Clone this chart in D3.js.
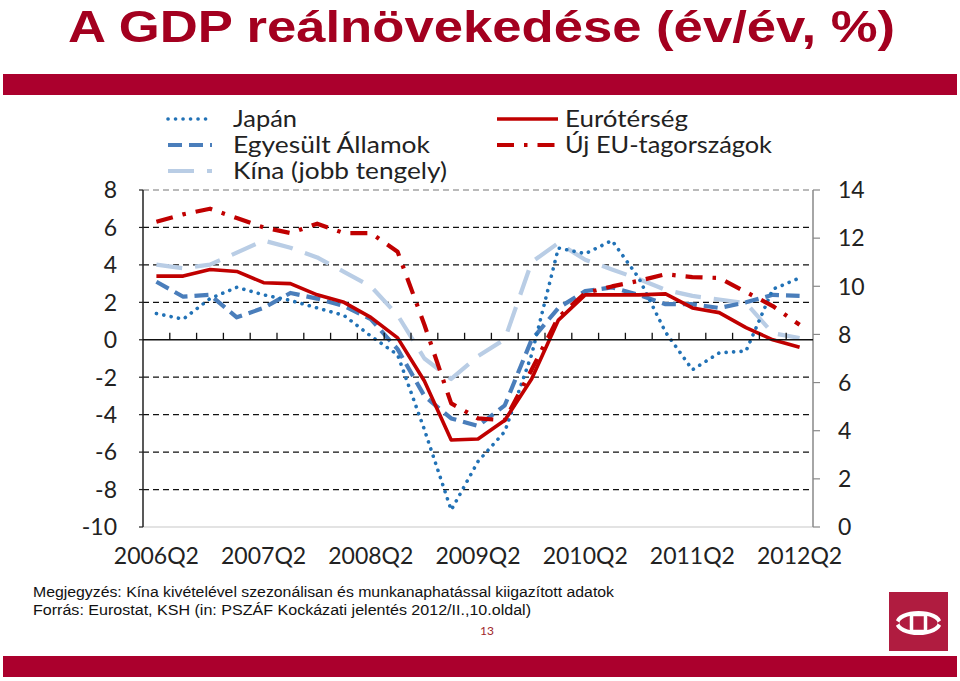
<!DOCTYPE html>
<html><head><meta charset="utf-8">
<script src="https://cdn.jsdelivr.net/npm/d3@7"></script>
<style>html,body{margin:0;padding:0;background:#fff;}svg{display:block;}</style>
</head><body>
<svg id="c" width="960" height="681"></svg>
<script>
const quarters = [];
["2006","2007","2008","2009","2010","2011","2012"].forEach(y=>["Q1","Q2","Q3","Q4"].forEach(q=>quarters.push(y+q)));
const categories = quarters.slice(1, 26); // 2006Q2 .. 2012Q2
const tickLabels = ["2006Q2","2007Q2","2008Q2","2009Q2","2010Q2","2011Q2","2012Q2"];
const leftTicks = [-10,-8,-6,-4,-2,0,2,4,6,8];
const rightTicks = [0,2,4,6,8,10,12,14];

const japan    = [1.4, 1.1, 2.2, 2.8, 2.4, 2.1, 1.7, 1.3, 0.2, -0.8, -4.8, -9.1, -6.5, -4.9, -0.8, 4.9, 4.6, 5.3, 3.3, 0.4, -1.6, -0.7, -0.6, 2.7, 3.3];
const usa      = [3.1, 2.3, 2.4, 1.2, 1.7, 2.5, 2.2, 1.8, 1.1, -0.5, -3.0, -4.2, -4.6, -3.5, 0.0, 1.7, 2.6, 2.8, 2.4, 1.9, 1.9, 1.7, 2.0, 2.4, 2.35];
const china    = [10.9, 10.75, 10.9, 11.4, 11.9, 11.6, 11.2, 10.6, 10.0, 8.8, 7.0, 6.15, 7.1, 7.8, 11.0, 11.8, 11.1, 10.7, 10.3, 9.85, 9.6, 9.45, 9.3, 8.05, 7.85];
const eurozone = [3.4, 3.4, 3.75, 3.65, 3.05, 3.0, 2.4, 2.0, 1.2, 0.1, -2.2, -5.35, -5.3, -4.3, -2.1, 1.05, 2.4, 2.4, 2.4, 2.45, 1.7, 1.45, 0.65, 0.0, -0.4];
const newEU    = [6.3, 6.7, 7.0, 6.5, 6.0, 5.7, 6.2, 5.7, 5.7, 4.7, 0.8, -3.4, -4.2, -4.3, -1.6, 1.2, 2.5, 2.85, 3.15, 3.5, 3.35, 3.3, 2.55, 1.8, 0.8];

const svg = d3.select("#c");
const L = 143, R = 813, T = 190, B = 527;
const x = d3.scaleBand().domain(categories).range([L, R]).padding(0);
const yL = d3.scaleLinear().domain([-10, 8]).range([B, T]);
const yR = d3.scaleLinear().domain([0, 14]).range([B, T]);
const cx = c => x(c) + x.bandwidth()/2;

// Title & bands
svg.append("text").attr("x", 68).attr("y", 42)
  .attr("font-family", "Liberation Sans, Arial, sans-serif").attr("font-weight", "bold")
  .attr("font-size", 45).attr("fill", "#a3001f")
  .attr("textLength", 827).attr("lengthAdjust", "spacingAndGlyphs")
  .text("A GDP reálnövekedése (év/év, %)");
svg.append("rect").attr("x", 3).attr("y", 74).attr("width", 954).attr("height", 21).attr("fill", "#ab002d");
svg.append("rect").attr("x", 3).attr("y", 656).attr("width", 954).attr("height", 21).attr("fill", "#ab002d");

const axisFont = "Lato, 'Open Sans', sans-serif";

// gridlines
leftTicks.forEach(v => {
  if (v === 0 || v === -10) return;
  svg.append("line").attr("x1", L).attr("x2", R).attr("y1", yL(v)).attr("y2", yL(v))
    .attr("stroke", v === 8 ? "#777" : "#111").attr("stroke-width", 1.2)
    .attr("stroke-dasharray", "6 4");
});
// bottom line
svg.append("line").attr("x1", L).attr("x2", R).attr("y1", B).attr("y2", B).attr("stroke", "#c8c8c8").attr("stroke-width", 1.2);
// left axis
svg.append("line").attr("x1", L).attr("x2", L).attr("y1", T).attr("y2", B).attr("stroke", "#222").attr("stroke-width", 1.5);
leftTicks.forEach(v => {
  svg.append("line").attr("x1", L-4).attr("x2", L).attr("y1", yL(v)).attr("y2", yL(v)).attr("stroke", "#222").attr("stroke-width", 1.2);
  svg.append("text").attr("x", 117).attr("y", yL(v)).attr("dy", "0.36em")
    .attr("text-anchor", "end").attr("font-family", axisFont).attr("font-size", 23).attr("fill", "#222").text(v);
});
// right axis
svg.append("line").attr("x1", R).attr("x2", R).attr("y1", T).attr("y2", B).attr("stroke", "#888").attr("stroke-width", 1.5);
rightTicks.forEach(v => {
  svg.append("line").attr("x1", R).attr("x2", R+7).attr("y1", yR(v)).attr("y2", yR(v)).attr("stroke", "#888").attr("stroke-width", 1.2);
  svg.append("text").attr("x", 838).attr("y", yR(v)).attr("dy", "0.36em")
    .attr("text-anchor", "start").attr("font-family", axisFont).attr("font-size", 23).attr("fill", "#222").text(v);
});

// series
const lineL = d3.line().x((d,i) => cx(categories[i])).y(d => yL(d));
const lineR = d3.line().x((d,i) => cx(categories[i])).y(d => yR(d));
const styles = {
  japan:   {stroke:"#2272b6", w:3.6, dash:"0.1 7.4", cap:"round"},
  usa:     {stroke:"#4a7ebb", w:4.2, dash:"14 7", cap:"butt"},
  china:   {stroke:"#b9cde5", w:4.2, dash:"26 13", cap:"butt"},
  euro:    {stroke:"#c00000", w:3.6, dash:null, cap:"butt"},
  newEU:   {stroke:"#c00000", w:4.2, dash:"17 10 3.5 10", cap:"butt"}
};
function draw(data, gen, st) {
  const p = svg.append("path").datum(data).attr("d", gen).attr("fill", "none")
    .attr("stroke", st.stroke).attr("stroke-width", st.w).attr("stroke-linecap", st.cap).attr("stroke-linejoin", "round");
  if (st.dash) p.attr("stroke-dasharray", st.dash);
}
draw(china, lineR, styles.china);
draw(usa, lineL, styles.usa);
draw(japan, lineL, styles.japan);
draw(newEU, lineL, styles.newEU);
draw(eurozone, lineL, styles.euro);

// x axis at zero
svg.append("line").attr("x1", L).attr("x2", R).attr("y1", yL(0)).attr("y2", yL(0)).attr("stroke", "#111").attr("stroke-width", 1.6);
categories.forEach((c, i) => {
  if (i === 0) return;
  svg.append("line").attr("x1", x(c)).attr("x2", x(c)).attr("y1", yL(0)).attr("y2", yL(0)-7).attr("stroke", "#111").attr("stroke-width", 1.3);
});
tickLabels.forEach(t => {
  svg.append("text").attr("x", cx(t)).attr("y", 564).attr("text-anchor", "middle")
    .attr("font-family", axisFont).attr("font-size", 23).attr("fill", "#222").text(t);
});

// legend
const legend = [
  {name:"Japán", st:styles.japan, x1:168, x2:210, tx:233, y:119, len:64},
  {name:"Egyesült Államok", st:styles.usa, x1:168, x2:212, tx:233, y:145, len:197},
  {name:"Kína (jobb tengely)", st:styles.china, x1:168, x2:212, tx:233, y:171, len:214},
  {name:"Eurótérség", st:styles.euro, x1:497, x2:558, tx:565, y:119, len:123},
  {name:"Új EU-tagországok", st:styles.newEU, x1:497, x2:558, tx:565, y:145, len:207}
];
legend.forEach(d => {
  const ln = svg.append("line").attr("x1", d.x1).attr("x2", d.x2).attr("y1", d.y).attr("y2", d.y)
    .attr("stroke", d.st.stroke).attr("stroke-width", d.st.w).attr("stroke-linecap", d.st.cap);
  if (d.st.dash) ln.attr("stroke-dasharray", d.st.dash);
  svg.append("text").attr("x", d.tx).attr("y", d.y).attr("dy", "0.36em")
    .attr("font-family", axisFont).attr("font-size", 23.5).attr("fill", "#222")
    .attr("textLength", d.len).attr("lengthAdjust", "spacingAndGlyphs").text(d.name);
});

// footer
const ff = "Liberation Sans, Arial, sans-serif";
svg.append("text").attr("x", 33).attr("y", 597).attr("font-family", ff).attr("font-size", 15.5).attr("fill", "#111")
  .attr("textLength", 581).attr("lengthAdjust", "spacingAndGlyphs")
  .text("Megjegyzés: Kína kivételével szezonálisan és munkanaphatással kiigazított adatok");
svg.append("text").attr("x", 33).attr("y", 615).attr("font-family", ff).attr("font-size", 15.5).attr("fill", "#111")
  .attr("textLength", 498).attr("lengthAdjust", "spacingAndGlyphs")
  .text("Forrás: Eurostat, KSH (in: PSZÁF Kockázati jelentés 2012/II.,10.oldal)");
svg.append("text").attr("x", 487).attr("y", 635).attr("text-anchor", "middle").attr("font-family", axisFont)
  .attr("font-size", 12).attr("fill", "#a0282b").text("13");

// logo
const lg = svg.append("g");
lg.append("rect").attr("x", 889).attr("y", 592).attr("width", 59).attr("height", 59).attr("fill", "#b01c40");
lg.append("ellipse").attr("cx", 918.5).attr("cy", 623).attr("rx", 21).attr("ry", 10).attr("fill", "none").attr("stroke", "#fff").attr("stroke-width", 4);
lg.append("rect").attr("x", 911.5).attr("y", 614.5).attr("width", 14).attr("height", 17).attr("fill", "#b01c40").attr("stroke", "#fff").attr("stroke-width", 3.5);
lg.append("path").attr("d", "M894,619 L900,623 L894,627 Z").attr("fill", "#b01c40");
lg.append("path").attr("d", "M943,619 L937,623 L943,627 Z").attr("fill", "#b01c40");
</script>
</body></html>
